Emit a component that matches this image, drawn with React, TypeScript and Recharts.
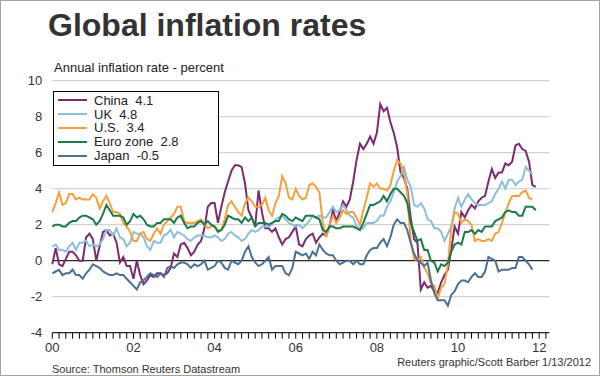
import { LineChart, Line, XAxis, YAxis, CartesianGrid, ReferenceLine, Legend } from "recharts";

// monthly annual inflation, Jan 2000 .. Dec 2011 (null = not yet published)
const china = [
  -0.2, 0.7, -0.2, -0.3, 0.1, 0.5, 0.5, 0.3, 0.0, 0.0, 1.3, 1.5,
  1.2, 0.0, 0.8, 1.6, 1.7, 1.4, 1.5, 1.0, -0.1, 0.2, -0.3, -0.3,
  -1.0, 0.0, -0.8, -1.3, -1.1, -0.8, -0.9, -0.7, -0.7, -0.8, -0.7, -0.4,
  0.4, 0.2, 0.9, 1.0, 0.7, 0.3, 0.5, 0.9, 1.1, 1.8, 3.0, 3.2,
  3.2, 2.1, 3.0, 3.8, 4.4, 5.0, 5.3, 5.3, 5.2, 4.3, 2.8, 2.4,
  1.9, 3.9, 2.7, 1.8, 1.8, 1.6, 1.8, 1.3, 0.9, 1.2, 1.3, 1.6,
  1.9, 0.9, 0.8, 1.2, 1.4, 1.5, 1.0, 1.3, 1.5, 1.4, 1.9, 2.8,
  2.2, 2.7, 3.3, 3.0, 3.4, 4.4, 5.6, 6.5, 6.2, 6.5, 6.9, 6.5,
  7.1, 8.7, 8.3, 8.5, 7.7, 7.1, 6.3, 4.9, 4.6, 4.0, 2.4, 1.2,
  1.0, -1.6, -1.2, -1.5, -1.4, -1.7, -1.8, -1.2, -0.8, -0.5, 0.6, 1.9,
  1.5, 2.7, 2.4, 2.8, 3.1, 2.9, 3.3, 3.5, 3.6, 4.4, 5.1, 4.6,
  4.9, 4.9, 5.4, 5.3, 5.5, 6.4, 6.5, 6.2, 6.1, 5.5, 4.2, 4.1,
];

const uk = [
  0.8, 0.9, 0.6, 0.6, 0.5, 0.8, 1.0, 0.6, 1.0, 1.0, 1.1, 0.8,
  0.9, 0.8, 0.9, 1.2, 1.7, 1.7, 1.4, 1.8, 1.3, 1.2, 0.8, 1.0,
  1.6, 1.5, 1.5, 1.3, 0.8, 0.6, 1.1, 1.0, 1.0, 1.4, 1.5, 1.7,
  1.3, 1.6, 1.5, 1.4, 1.2, 1.1, 1.3, 1.4, 1.4, 1.4, 1.3, 1.3,
  1.4, 1.3, 1.1, 1.2, 1.5, 1.6, 1.4, 1.3, 1.1, 1.2, 1.5, 1.7,
  1.6, 1.7, 1.9, 1.9, 1.9, 2.0, 2.3, 2.4, 2.5, 2.3, 2.1, 2.0,
  1.9, 2.0, 1.8, 2.0, 2.2, 2.5, 2.4, 2.5, 2.4, 2.4, 2.7, 3.0,
  2.7, 2.8, 3.1, 2.8, 2.5, 2.4, 1.9, 1.8, 1.8, 2.1, 2.1, 2.1,
  2.2, 2.5, 2.5, 3.0, 3.3, 3.8, 4.4, 4.7, 5.2, 4.5, 4.1, 3.1,
  3.0, 3.2, 2.9, 2.3, 2.2, 1.8, 1.8, 1.6, 1.1, 1.5, 1.9, 2.9,
  3.5, 3.0, 3.4, 3.7, 3.4, 3.2, 3.1, 3.1, 3.1, 3.2, 3.3, 3.7,
  4.0, 4.4, 4.0, 4.5, 4.5, 4.2, 4.4, 4.5, 5.2, 5.0, 4.8, null,
];

const us = [
  2.7, 3.2, 3.8, 3.1, 3.2, 3.7, 3.7, 3.4, 3.5, 3.4, 3.4, 3.4,
  3.7, 3.5, 2.9, 3.3, 3.6, 3.2, 2.7, 2.7, 2.6, 2.1, 1.9, 1.6,
  1.1, 1.1, 1.5, 1.6, 1.2, 1.1, 1.5, 1.8, 1.5, 2.0, 2.2, 2.4,
  2.6, 3.0, 3.0, 2.2, 2.1, 2.1, 2.1, 2.2, 2.3, 2.0, 1.8, 1.9,
  1.9, 1.7, 1.7, 2.3, 3.1, 3.3, 3.0, 2.7, 2.5, 3.2, 3.5, 3.3,
  3.0, 3.0, 3.1, 3.5, 2.8, 2.5, 3.2, 3.6, 4.7, 4.3, 3.5, 3.4,
  4.0, 3.6, 3.4, 3.5, 4.2, 4.3, 4.1, 3.8, 2.1, 1.3, 2.0, 2.5,
  2.1, 2.4, 2.8, 2.6, 2.7, 2.7, 2.4, 2.0, 2.8, 3.5, 4.3, 4.1,
  4.3, 4.0, 4.0, 3.9, 4.2, 5.0, 5.6, 5.4, 4.9, 3.7, 1.1, 0.1,
  0.0, 0.2, -0.4, -0.7, -1.3, -1.4, -2.1, -1.5, -1.3, -0.2, 1.8, 2.7,
  2.6, 2.1, 2.3, 2.2, 2.0, 1.1, 1.2, 1.1, 1.1, 1.2, 1.1, 1.5,
  1.6, 2.1, 2.7, 3.2, 3.6, 3.6, 3.6, 3.8, 3.9, 3.5, 3.4, null,
];

const euro = [
  1.9, 2.0, 2.0, 1.9, 1.9, 2.1, 2.2, 2.2, 2.4, 2.5, 2.5, 2.4,
  2.3, 2.0, 2.2, 2.6, 3.1, 2.8, 2.5, 2.5, 2.5, 2.4, 2.0, 2.2,
  2.6, 2.4, 2.5, 2.3, 2.0, 1.9, 1.9, 2.1, 2.1, 2.3, 2.3, 2.3,
  2.1, 2.4, 2.5, 2.1, 1.8, 1.9, 1.9, 2.1, 2.2, 2.0, 2.2, 2.0,
  1.9, 1.6, 1.7, 2.0, 2.5, 2.4, 2.3, 2.3, 2.1, 2.4, 2.2, 2.4,
  1.9, 2.1, 2.1, 2.1, 2.0, 2.1, 2.2, 2.2, 2.6, 2.5, 2.3, 2.2,
  2.4, 2.3, 2.2, 2.5, 2.5, 2.5, 2.4, 2.3, 1.7, 1.6, 1.9, 1.9,
  1.8, 1.8, 1.9, 1.9, 1.9, 1.9, 1.8, 1.7, 2.1, 2.6, 3.1, 3.1,
  3.2, 3.3, 3.6, 3.3, 3.7, 4.0, 4.0, 3.8, 3.6, 3.2, 2.1, 1.6,
  1.1, 1.2, 0.6, 0.6, 0.0, -0.1, -0.6, -0.2, -0.3, -0.1, 0.5, 0.9,
  1.0, 0.9, 1.6, 1.6, 1.7, 1.5, 1.7, 1.6, 1.9, 1.9, 1.9, 2.2,
  2.3, 2.4, 2.7, 2.8, 2.7, 2.7, 2.5, 2.5, 3.0, 3.0, 3.0, 2.8,
];

const japan = [
  -0.7, -0.6, -0.5, -0.8, -0.7, -0.7, -0.5, -0.8, -0.8, -1.0, -0.7, -0.5,
  -0.2, -0.3, -0.4, -0.6, -0.7, -0.8, -0.8, -0.7, -0.8, -0.8, -1.0, -1.2,
  -1.4, -1.6, -1.2, -1.1, -0.9, -0.7, -0.8, -0.9, -0.7, -0.9, -0.4, -0.3,
  -0.4, -0.2, -0.1, -0.1, -0.2, -0.4, -0.2, -0.3, -0.2, 0.0, -0.5, -0.4,
  -0.3, 0.0, -0.1, -0.4, -0.5, 0.0, -0.1, -0.2, 0.0, 0.5, 0.8, 0.2,
  -0.1, -0.3, -0.2, 0.0, 0.2, -0.5, -0.3, -0.3, -0.3, -0.7, -0.8, -0.4,
  0.5, 0.4, 0.3, 0.4, 0.1, 0.5, 0.3, 0.9, 0.6, 0.4, 0.3, 0.3,
  0.0, -0.2, -0.1, 0.0, 0.0, -0.2, 0.0, -0.2, -0.2, 0.3, 0.6, 0.7,
  0.7, 1.0, 1.2, 0.8, 1.3, 2.0, 2.3, 2.1, 2.1, 1.7, 1.0, 0.4,
  0.0, -0.1, -0.3, -0.1, -1.1, -1.8, -2.2, -2.2, -2.2, -2.5, -1.9, -1.7,
  -1.3, -1.1, -1.1, -1.2, -0.9, -0.7, -0.9, -0.9, -0.6, 0.2, 0.1, 0.0,
  -0.6, -0.5, -0.5, -0.5, -0.4, -0.4, 0.2, 0.2, 0.0, -0.2, -0.5, null,
];

const seriesNames = ["China", "UK", "U.S.", "Euro zone", "Japan"];
const seriesKeys = ["china", "uk", "us", "euro", "japan"];
const seriesColors = ["#7b2c6e", "#8dbfdc", "#f6a03c", "#1b7b48", "#4b7093"];
const seriesValues = [china, uk, us, euro, japan];

const yTicks = [-4, -2, 0, 2, 4, 6, 8, 10];
const xTicks = Array.from({ length: 74 }, (_, i) => i * 2); // a tick every 2 months

const FONT = '"Liberation Sans", Arial, sans-serif';

const data = china.map((_, m) => {
  const row: Record<string, number | null> = { m };
  seriesKeys.forEach((k, i) => (row[k] = seriesValues[i][m]));
  return row;
});

const latest = (vals: (number | null)[]) => {
  const v = vals.filter((x) => x !== null) as number[];
  return v[v.length - 1].toFixed(1);
};

const LegendBox = () => (
  <div
    style={{
      border: "1px solid #000",
      background: "#fff",
      width: 164,
      padding: "2px 0 3px 0",
      fontFamily: FONT,
      fontSize: 13,
      color: "#222",
    }}
  >
    {seriesNames.map((name, i) => (
      <div key={name} style={{ display: "flex", alignItems: "center", height: 13.8 }}>
        <span style={{ width: 29, height: 2, marginLeft: 4, marginRight: 7, background: seriesColors[i] }} />
        <span style={{ whiteSpace: "pre", lineHeight: "13px" }}>{`${name}  ${latest(seriesValues[i])}`}</span>
      </div>
    ))}
  </div>
);

const fmtYear = (m: number) => (m % 24 === 0 ? String((m / 12) % 100).padStart(2, "0") : "");

export default function App() {
  return (
    <div
      style={{
        position: "absolute",
        left: 0,
        top: 0,
        width: 600,
        height: 376,
        boxSizing: "border-box",
        border: "1px solid #a3a3a3",
        background: "#fff",
        fontFamily: FONT,
        overflow: "hidden",
      }}
    >
      <div style={{ position: "absolute", left: 47, top: 8, fontSize: 32, fontWeight: "bold", color: "#333", lineHeight: "32px" }}>
        Global inflation rates
      </div>
      <div style={{ position: "absolute", left: 53, top: 60, fontSize: 13, color: "#222", lineHeight: "13px" }}>
        Annual inflation rate - percent
      </div>
      <div style={{ position: "absolute", left: 0, top: 0 }}>
        <LineChart width={598} height={374} data={data} margin={{ top: 79.7, right: 49.7, bottom: 22.3, left: 0 }}>
          <CartesianGrid vertical={false} stroke="#c8c8c8" strokeWidth={1} />
          <XAxis
            dataKey="m"
            type="number"
            domain={[0, 147]}
            ticks={xTicks}
            tickFormatter={fmtYear}
            interval={0}
            height={20}
            tickSize={6}
            tickMargin={4}
            axisLine={{ stroke: "#000" }}
            tickLine={{ stroke: "#000" }}
            tick={{ fill: "#333", fontSize: 13, fontFamily: FONT }}
          />
          <YAxis
            domain={[-4, 10]}
            ticks={yTicks}
            interval={0}
            width={51.3}
            axisLine={false}
            tickLine={false}
            tickSize={0}
            tickMargin={10}
            tick={{ fill: "#333", fontSize: 13, fontFamily: FONT }}
          />
          <ReferenceLine y={0} stroke="#000" strokeWidth={1} />
          {seriesKeys.map((k, i) => (
            <Line
              key={k}
              dataKey={k}
              name={seriesNames[i]}
              type="linear"
              stroke={seriesColors[i]}
              strokeWidth={2}
              dot={false}
              activeDot={false}
              isAnimationActive={false}
            />
          ))}
          <Legend
            layout="vertical"
            align="center"
            verticalAlign="middle"
            content={() => <LegendBox />}
            wrapperStyle={{ left: 52, top: 89.5, width: "auto" }}
          />
        </LineChart>
      </div>
      <div style={{ position: "absolute", left: 51, top: 362, fontSize: 11, color: "#333" }}>
        Source: Thomson Reuters Datastream
      </div>
      <div style={{ position: "absolute", right: 8, top: 355, fontSize: 11, color: "#333" }}>
        Reuters graphic/Scott Barber 1/13/2012
      </div>
    </div>
  );
}
